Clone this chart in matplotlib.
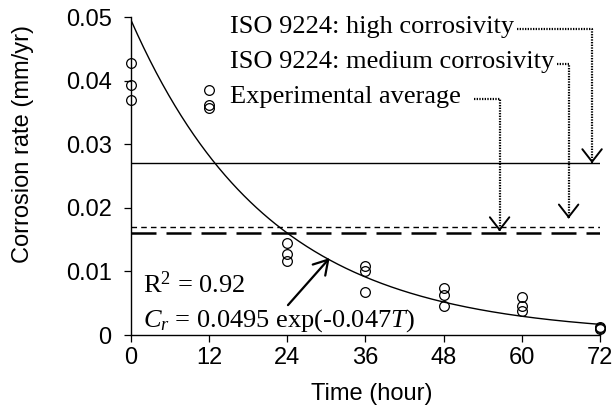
import numpy as np
import matplotlib
matplotlib.use("Agg")
import matplotlib.pyplot as plt

# measured corrosion rates (mm/yr) at each sampling time (hour)
time_h = [0, 0, 0, 12, 12, 12, 24, 24, 24, 36, 36, 36, 48, 48, 48, 60, 60, 60, 72, 72, 72]
rate = [0.0428, 0.0393, 0.0370, 0.0385, 0.0362, 0.0357,
        0.0144, 0.0128, 0.0116, 0.0109, 0.0100, 0.0068,
        0.0074, 0.0063, 0.0046, 0.0059, 0.0045, 0.0037,
        0.0013, 0.0011, 0.0010]

# exponential fit Cr = a * exp(-b T)
fit_a = 0.0495
fit_b = 0.047

# reference levels
iso_high = 0.027
iso_medium = 0.017
exp_average = 0.016

x_ticks = [0, 12, 24, 36, 48, 60, 72]
y_ticks = [0, 0.01, 0.02, 0.03, 0.04, 0.05]

plt.rcParams["font.family"] = "Liberation Sans"
plt.rcParams["mathtext.fontset"] = "custom"
plt.rcParams["mathtext.rm"] = "Liberation Serif"
plt.rcParams["mathtext.it"] = "Liberation Serif:italic"

fig = plt.figure(figsize=(6.14, 4.08), dpi=100)
ax = fig.add_axes([0.2134, 0.1789, 0.7636, 0.7794])

# horizontal reference lines
ax.plot([0, 72], [iso_high, iso_high], color="black", lw=1.0)
ax.plot([0, 72], [iso_medium, iso_medium], color="black", lw=1.0, dashes=(4, 3))
ax.plot([0, 72], [exp_average, exp_average], color="black", lw=1.8, dashes=(10, 4))

# fitted curve
t = np.linspace(0, 72, 300)
ax.plot(t, fit_a * np.exp(-fit_b * t), color="black", lw=1.0)

# experimental data
ax.plot(time_h, rate, "o", mfc="none", mec="black", ms=7, mew=0.9, clip_on=False, zorder=5)

ax.set_xlim(0, 72)
ax.set_ylim(0, 0.05)
ax.set_xticks(x_ticks)
ax.set_yticks(y_ticks)
ax.set_yticklabels(["%g" % v for v in y_ticks])
ax.tick_params(direction="out", length=5, width=0.9, labelsize=17)
ax.tick_params(axis="y", pad=9)
ax.tick_params(axis="x", pad=3.5)
ax.spines["top"].set_visible(False)
ax.spines["right"].set_visible(False)
ax.spines["left"].set_linewidth(1.0)
ax.spines["bottom"].set_linewidth(1.0)
ax.set_xlabel("Time (hour)", fontsize=17, va="center")
ax.set_ylabel("Corrosion rate (mm/yr)", fontsize=17, va="center")
ax.xaxis.set_label_coords(0.514, -0.185)
ax.yaxis.set_label_coords(-0.230, 0.60)

# labels with dotted leader arrows
serif = "Liberation Serif"
labels = [
    ("ISO 9224: high corrosivity", 0.0484, 70.8, iso_high),
    ("ISO 9224: medium corrosivity", 0.0429, 67.2, iso_medium + 0.0013),
    ("Experimental average", 0.0374, 56.6, exp_average + 0.0003),
]
for text, ty, vx, tip in labels:
    txt = ax.text(15.2, ty, text, family=serif, fontsize=19, va="center", ha="left")
    fig.canvas.draw()
    bb = txt.get_window_extent().transformed(ax.transData.inverted())
    start = bb.x1 + 0.4 if "average" not in text else bb.x1 + 2.0
    ax.plot([start, vx, vx], [ty - 0.0003, ty - 0.0003, tip + 0.0004], color="black",
            lw=1.6, ls=(0, (0.6, 0.6)), clip_on=False)
    ax.annotate("", xy=(vx, tip), xytext=(vx, tip + 0.0004),
                arrowprops=dict(arrowstyle="->,head_length=0.45,head_width=0.35",
                                lw=1.4, color="black", shrinkA=0, shrinkB=0,
                                mutation_scale=20))

# fit equation
ax.text(1.8, 0.0066, "R$^2$ = 0.92", family=serif, fontsize=19)
ax.text(1.8, 0.0014, "$C_r$ = 0.0495 exp(-0.047$T$)", family=serif, fontsize=19)
ax.annotate("", xy=(30.5, 0.0121), xytext=(24.1, 0.0047),
            arrowprops=dict(arrowstyle="->,head_length=0.5,head_width=0.3",
                            lw=1.6, color="black", shrinkA=0, shrinkB=0,
                            mutation_scale=20))

fig.savefig("out.png", dpi=100)
